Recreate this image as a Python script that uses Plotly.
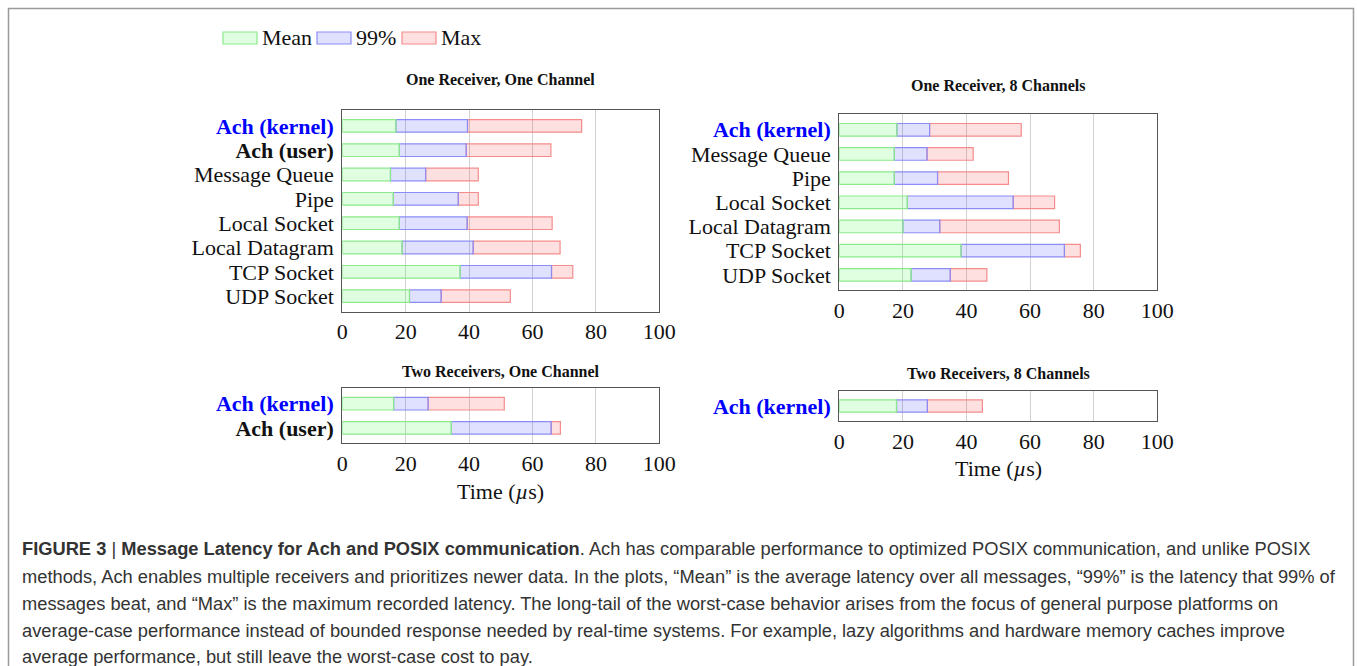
import plotly.graph_objects as go

W, H = 1357, 666

series_names = ["Mean", "99%", "Max"]

p1_title = "One Receiver, One Channel"
p1_cats = ["Ach (kernel)", "Ach (user)", "Message Queue", "Pipe", "Local Socket",
           "Local Datagram", "TCP Socket", "UDP Socket"]
p1_mean = [16.9, 18.0, 15.2, 16.1, 18.0, 18.9, 37.2, 21.2]
p1_p99 = [39.5, 39.1, 26.3, 36.6, 39.4, 41.3, 66.0, 31.2]
p1_max = [75.5, 65.8, 42.9, 42.9, 66.2, 68.7, 72.7, 53.0]

p2_title = "One Receiver, 8 Channels"
p2_cats = ["Ach (kernel)", "Message Queue", "Pipe", "Local Socket",
           "Local Datagram", "TCP Socket", "UDP Socket"]
p2_mean = [18.1, 17.3, 17.3, 21.4, 20.0, 38.3, 22.6]
p2_p99 = [28.4, 27.6, 30.9, 54.7, 31.6, 70.8, 34.9]
p2_max = [57.2, 42.1, 53.2, 67.7, 69.2, 75.8, 46.4]

p3_title = "Two Receivers, One Channel"
p3_cats = ["Ach (kernel)", "Ach (user)"]
p3_mean = [16.2, 34.4]
p3_p99 = [27.1, 65.9]
p3_max = [51.1, 68.8]

p4_title = "Two Receivers, 8 Channels"
p4_cats = ["Ach (kernel)"]
p4_mean = [18.0]
p4_p99 = [27.7]
p4_max = [45.0]

x_ticks = [0, 20, 40, 60, 80, 100]
x_title = "Time (<i>µ</i>s)"

caption_lines = [
    "<b>FIGURE 3</b> | <b>Message Latency for Ach and POSIX communication</b>. Ach has comparable performance to optimized POSIX communication, and unlike POSIX",
    "methods, Ach enables multiple receivers and prioritizes newer data. In the plots, “Mean” is the average latency over all messages, “99%” is the latency that 99% of",
    "messages beat, and “Max” is the maximum recorded latency. The long-tail of the worst-case behavior arises from the focus of general purpose platforms on",
    "average-case performance instead of bounded response needed by real-time systems. For example, lazy algorithms and hardware memory caches improve",
    "average performance, but still leave the worst-case cost to pay.",
]

FILL = ["rgba(0,255,0,0.12)", "rgba(0,0,255,0.12)", "rgba(255,0,0,0.12)"]
EDGE = ["#8be98b", "#8c8cf5", "#f58c8c"]
SERIF = "Liberation Serif, Times New Roman, serif"
SANS = "Liberation Sans, Arial, sans-serif"


def fmt_label(c):
    if c == "Ach (kernel)":
        return "<b><span style='color:#0000ff'>%s</span></b>" % c
    if c == "Ach (user)":
        return "<b>%s</b>" % c
    return c


def px(x):
    return x / W


def py(y):
    return 1 - y / H


panels = [
    (p1_title, p1_cats, p1_mean, p1_p99, p1_max, (342.3, 659.3), (110.3, 311.7), 80, None),
    (p2_title, p2_cats, p2_mean, p2_p99, p2_max, (839.3, 1157.3), (114.3, 290.3), 86, None),
    (p3_title, p3_cats, p3_mean, p3_p99, p3_max, (342.3, 659.3), (388.3, 443.3), 372, 491),
    (p4_title, p4_cats, p4_mean, p4_p99, p4_max, (839.3, 1157.3), (391.0, 421.0), 373, 469),
]

fig = go.Figure()
annotations = []
shapes = []

for i, (title, cats, mean, p99, mx, xd, yd, ty, xt) in enumerate(panels):
    k = "" if i == 0 else str(i + 1)
    xa, ya = "x" + k, "y" + k
    bases = [[0] * len(cats), mean, p99]
    tops = [mean, p99, mx]
    # draw Max first, then 99%, then Mean so left-hand edges sit on top
    for s in [2, 1, 0]:
        fig.add_trace(go.Bar(
            y=cats, x=[t - b for t, b in zip(tops[s], bases[s])], base=bases[s],
            orientation="h", width=0.52, name=series_names[s],
            marker=dict(color=FILL[s], line=dict(color=EDGE[s], width=1.2)),
            xaxis=xa, yaxis=ya, showlegend=False,
            hovertemplate="%{y}: %{customdata}<extra>" + series_names[s] + "</extra>",
            customdata=tops[s],
        ))
    n = len(cats)
    fig.layout["xaxis" + k] = dict(
        domain=[px(xd[0]), px(xd[1])], anchor=ya, range=[0, 100], automargin=False,
        tickmode="array", tickvals=x_ticks, ticks="",
        showgrid=True, gridcolor="#d2d2d2", gridwidth=1, zeroline=False,
        showline=True, mirror=True, linecolor="#555", linewidth=1.2,
        tickfont=dict(family=SERIF, size=22, color="#111"),
    )
    fig.layout["yaxis" + k] = dict(
        domain=[py(yd[1]), py(yd[0])], anchor=xa, type="category", automargin=False,
        range=[n - 1 + 0.64, -0.64],
        tickmode="array", tickvals=cats, ticktext=[fmt_label(c) for c in cats],
        ticks="outside", ticklen=3, tickcolor="rgba(0,0,0,0)",
        showgrid=False, zeroline=False,
        showline=True, mirror=True, linecolor="#555", linewidth=1.2,
        tickfont=dict(family=SERIF, size=22, color="#111"),
    )
    cx = (xd[0] + xd[1]) / 2
    annotations.append(dict(x=px(cx), y=py(ty), xref="paper", yref="paper",
                            text="<b>%s</b>" % title, showarrow=False,
                            xanchor="center", yanchor="middle",
                            font=dict(family=SERIF, size=16, color="#111")))
    if xt is not None:
        annotations.append(dict(x=px(cx), y=py(xt), xref="paper", yref="paper",
                                text=x_title, showarrow=False,
                                xanchor="center", yanchor="middle",
                                font=dict(family=SERIF, size=22, color="#111")))

# custom legend
leg_x = [223, 317, 402]
for s in range(3):
    shapes.append(dict(type="rect", xref="paper", yref="paper",
                       x0=px(leg_x[s]), x1=px(leg_x[s] + 34), y0=py(44), y1=py(32),
                       fillcolor=FILL[s], line=dict(color=EDGE[s], width=1.2)))
    annotations.append(dict(x=px(leg_x[s] + 37), y=py(37), xref="paper", yref="paper",
                            text=series_names[s], showarrow=False,
                            xanchor="left", yanchor="middle",
                            font=dict(family=SERIF, size=22, color="#111")))

# caption
cap_y = [548, 576, 603, 630, 656]
for line, y in zip(caption_lines, cap_y):
    annotations.append(dict(x=px(20), y=py(y), xref="paper", yref="paper",
                            text=line, showarrow=False, xanchor="left", yanchor="middle",
                            font=dict(family=SANS, size=18.3, color="#333")))

# outer frame
shapes.append(dict(type="rect", xref="paper", yref="paper",
                   x0=px(8.5), x1=px(1353.5), y0=py(700), y1=py(8.5),
                   line=dict(color="#9a9a9a", width=1.5), fillcolor="rgba(0,0,0,0)"))

fig.update_layout(
    width=W, height=H, margin=dict(l=0, r=0, t=0, b=0, autoexpand=False),
    paper_bgcolor="white", plot_bgcolor="white",
    barmode="overlay", showlegend=False,
    annotations=annotations, shapes=shapes,
)

fig.write_html("out.html", config={"responsive": False, "displayModeBar": False},
               post_script="document.body.style.margin='0';document.body.style.overflow='hidden';")
